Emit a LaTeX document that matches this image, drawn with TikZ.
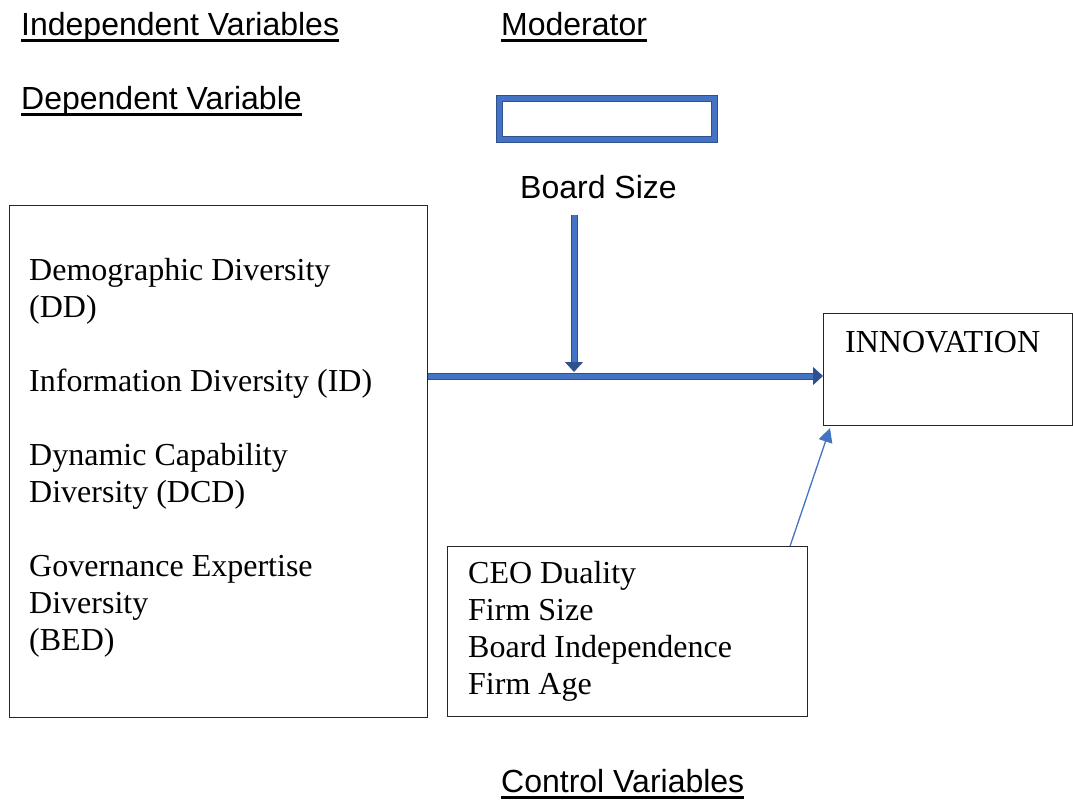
\documentclass[tikz,border=0pt]{standalone}
\usepackage{fontspec}
\setmainfont{Liberation Serif}
\setsansfont{Liberation Sans}
\usepackage{tikz}
\usetikzlibrary{arrows.meta}
\definecolor{wordblue}{HTML}{4472C4}
\definecolor{worddark}{HTML}{2F528F}
\newlength\ulwd
\newcommand\uline[1]{\settowidth\ulwd{#1}\rlap{#1}\rule[-6.5pt]{\ulwd}{3pt}}

\begin{document}
\begin{tikzpicture}[
   x=1pt,y=-1pt,
   heading/.style={font=\sffamily\fontsize{32}{37}\selectfont,anchor=base west,inner sep=0pt},
   body/.style={font=\fontsize{32}{37}\selectfont,align=left,anchor=base west,inner sep=0pt},
   box/.style={draw=black!85,line width=1.1pt,anchor=north west,inner sep=0pt},
   modbox/.style={draw=worddark,line width=1pt,double=wordblue,double distance=5pt,minimum width=215pt,minimum height=41pt,inner sep=0pt},
   bigarrow/.style={draw=worddark,line width=1pt,double=wordblue,double distance=5pt,-{Triangle[length=10pt,width=18pt]}},
   thin/.style={wordblue,line width=1.3pt,-{Triangle[length=14pt,width=14pt]}}]
\useasboundingbox (0,0) rectangle (1073,801);
\node[heading] (iv) at (21,35) {\uline{Independent Variables}};
\node[heading] (mod) at (501,35) {\uline{Moderator}};
\node[heading] (dv) at (21,109) {\uline{Dependent Variable}};
\node[heading] (cv) at (501,792) {\uline{Control Variables}};
\node[modbox] (modrect) at (607,119) {};
\node[heading] (bsize) at (520,198) {Board Size};
\node[box,minimum width=418pt,minimum height=512pt] (ivbox) at (9,205) {};
\node[body] (ivtext) at (29,650) {Demographic Diversity\\(DD)\\[37pt]Information Diversity (ID)\\[37pt]Dynamic Capability\\Diversity (DCD)\\[37pt]Governance Expertise\\Diversity\\(BED)};
\node[box,minimum width=249pt,minimum height=112pt] (innobox) at (823,313) {};
\node[body] (innotext) at (845,352) {INNOVATION};
\node[box,minimum width=360pt,minimum height=170pt] (ctrlbox) at (447,546) {};
\node[body] (ctrltext) at (468,694) {CEO Duality\\Firm Size\\Board Independence\\Firm Age};
\coordinate (modtop) at (574,215);
\coordinate (jn) at (574,376);
\draw[bigarrow] (modtop) -- ([yshift=4pt]jn);
\draw[bigarrow] (ivbox.east |- jn) -- (innobox.west |- jn);
\draw[thin] ([xshift=-18pt]ctrlbox.north east) -- ([xshift=7pt,yshift=-2pt]innobox.south west);
\end{tikzpicture}
\end{document}
